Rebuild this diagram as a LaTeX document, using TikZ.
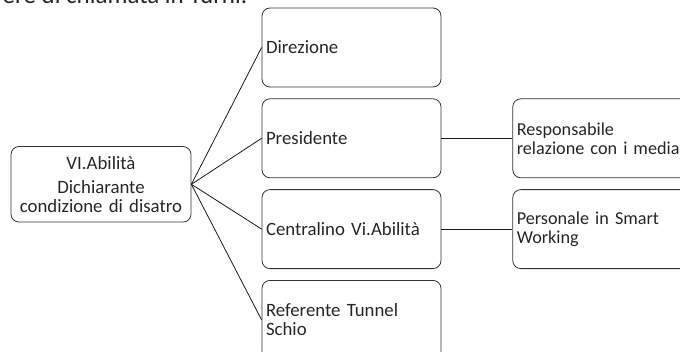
\documentclass[tikz,border=0pt]{standalone}
\usepackage{fontspec}
\setmainfont{Carlito}
\usetikzlibrary{positioning}

\begin{document}
\begin{tikzpicture}
	[x=1pt,y=-1pt,-,node distance=11pt and 71pt,
		text=black!85,line width=0.8pt,
		box node/.style={draw=black!80,rounded corners=8pt,minimum height=79pt,inner xsep=4pt,text width=171pt,align=left,font=\fontsize{18.8}{19}\selectfont},
		side node/.style={box node,font=\fontsize{18.2}{19}\selectfont},
		root node/.style={box node,minimum height=75.5pt,text width=172pt,align=center}]

	\path[use as bounding box] (0,0) rectangle (680,351);
	\clip (0,0) rectangle (680,351);

	\node[anchor=base west,font=\fontsize{25}{30}\selectfont] (intro) at (-1,3.5) {ere di chiamata in Turni.};

	\node[root node]    (vi)   at (101,184.3) {VI.Abilità\\[5pt]Dichiarante\\condizione di disatro};
	\node[box node]     (dir)  at (351.5,47.5) {Direzione};
	\node[box node]     (pres) [below=of dir] {Presidente};
	\node[box node]     (cent) [below=of pres] {Centralino Vi.Abilità};
	\node[box node]     (ref)  [below=of cent] {Referente Tunnel\\Schio};
	\node[side node]    (resp) [right=of pres] {Responsabile\\relazione con i media};
	\node[side node]    (pers) [right=of cent] {Personale in Smart\\Working};

	\path[black!90]
	(vi.east) edge (dir.west)
	(vi.east) edge (pres.west)
	(vi.east) edge (cent.west)
	(vi.east) edge (ref.west)
	(pres) edge (resp)
	(cent) edge (pers)

	;

\end{tikzpicture}
\end{document}
